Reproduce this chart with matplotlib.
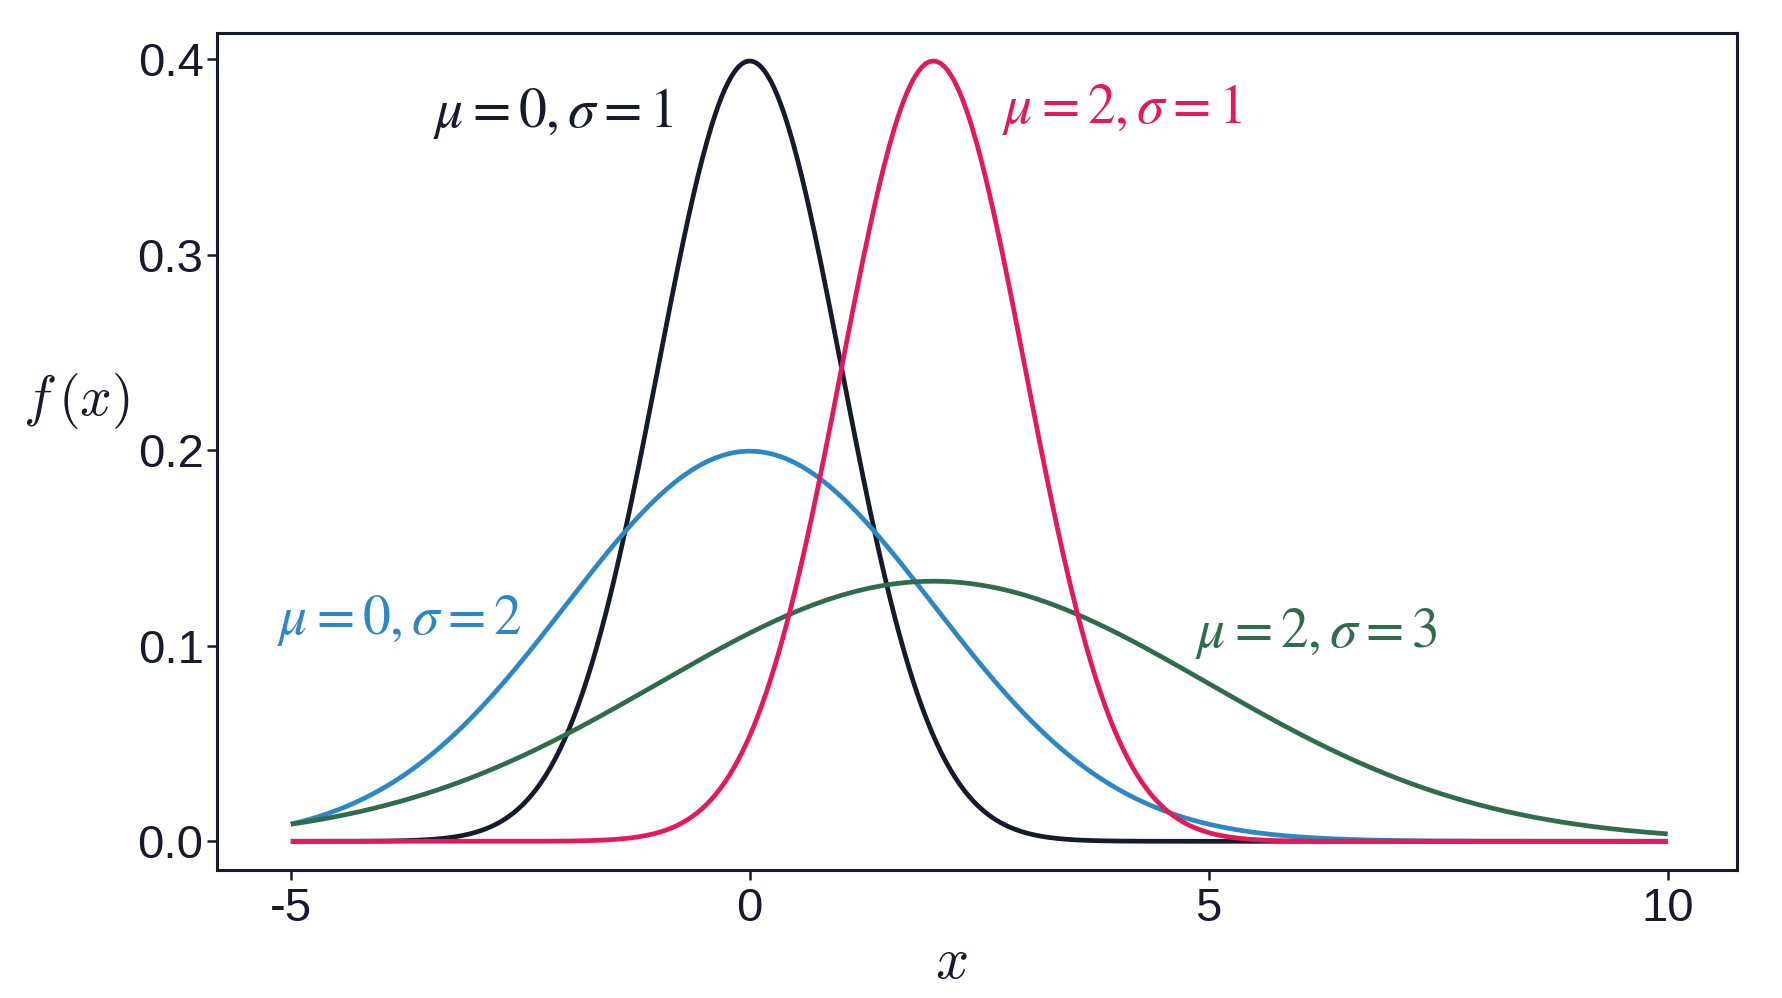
import numpy as np
import matplotlib.pyplot as plt

mus = [0, 2, 0, 2]
sigmas = [1, 1, 2, 3]
cores = ['#161b2b', '#e3195b', '#2c87c4', '#2f6c4c']
rotulos = [r'$\mu=0,\sigma=1$', r'$\mu=2,\sigma=1$', r'$\mu=0,\sigma=2$', r'$\mu=2,\sigma=3$']
pos_rotulos = [(-3.45, 0.372), (2.75, 0.374), (-5.15, 0.113), (4.85, 0.106)]
ordem = [0, 2, 3, 1]  # ordem de desenho

xticks = [-5, 0, 5, 10]
yticks = [0.0, 0.1, 0.2, 0.3, 0.4]

x = np.linspace(-5, 10, 600)

fig = plt.figure(figsize=(17.82, 9.98), dpi=100)
ax = fig.add_axes([0.122, 0.128, 0.853, 0.839])

for i in ordem:
    y = np.exp(-(x - mus[i])**2 / (2 * sigmas[i]**2)) / (sigmas[i] * np.sqrt(2 * np.pi))
    ax.plot(x, y, color=cores[i], lw=3.4, solid_capstyle='butt')
    ax.text(pos_rotulos[i][0], pos_rotulos[i][1], rotulos[i], color=cores[i],
            fontsize=40, ha='left', va='center', math_fontfamily='stix')

ax.set_xlim(-5.8, 10.76)
ax.set_ylim(-0.0148, 0.4133)
ax.set_xticks(xticks)
ax.set_xticklabels([str(t) for t in xticks])
ax.set_yticks(yticks)
ax.set_yticklabels(['%.1f' % t for t in yticks])
ax.tick_params(direction='out', length=7, width=1.8, colors='#161b2b',
               labelsize=34, pad=3)
ax.tick_params(axis='x', pad=5)
for lab in ax.get_xticklabels() + ax.get_yticklabels():
    lab.set_family('Liberation Sans')
for s in ax.spines.values():
    s.set_linewidth(2.2)
    s.set_color('#161b2b')

ax.set_xlabel(r'$x$', fontsize=42, math_fontfamily='cm', color='#161b2b')
ax.xaxis.set_label_coords(0.483, -0.075)
ax.set_ylabel(r'$f\,(x)$', fontsize=40, math_fontfamily='cm', rotation=0, color='#161b2b')
ax.yaxis.set_label_coords(-0.093, 0.525)

fig.savefig('out.png', dpi=100, facecolor='white')
